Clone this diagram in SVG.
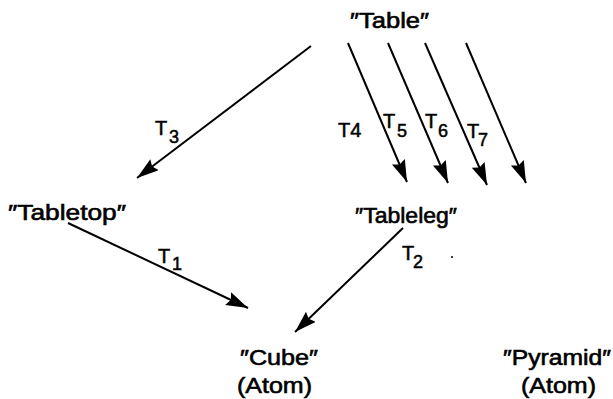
<svg xmlns="http://www.w3.org/2000/svg" width="613" height="399" viewBox="0 0 613 399">
<style>
.n{font-family:"Liberation Sans","DejaVu Sans",sans-serif;font-size:22px;fill:#000;stroke:#000;stroke-width:0.6}
.l{font-family:"Liberation Sans","DejaVu Sans",sans-serif;font-size:20px;fill:#000;stroke:#000;stroke-width:0.5}
.s{font-size:18px}
.c{stroke:#000;stroke-width:2;fill:none;marker-end:url(#ah)}
</style>
<defs>
<marker id="ah" markerUnits="userSpaceOnUse" markerWidth="24" markerHeight="16" refX="22" refY="7" orient="auto">
<path d="M0,0 L22,7 L0,14 L3,7 z" fill="#000"/>
</marker>
</defs>
<rect width="613" height="399" fill="#fff"/>
<g id="connectors">
<line class="c" x1="311" y1="46" x2="137" y2="178"/>
<line class="c" x1="348" y1="43" x2="407" y2="182"/>
<line class="c" x1="388" y1="43" x2="448" y2="183"/>
<line class="c" x1="425" y1="43" x2="487" y2="185"/>
<line class="c" x1="466" y1="43" x2="526" y2="183"/>
<line class="c" x1="68" y1="223" x2="248" y2="308"/>
<line class="c" x1="403" y1="228" x2="295" y2="332"/>
</g>
<g id="labels">
<text class="l" x="155" y="135">T</text><text class="l s" x="169" y="143">3</text>
<text class="l" x="338" y="137">T4</text>
<text class="l" x="383" y="128">T</text><text class="l s" x="397" y="137">5</text>
<text class="l" x="425" y="128">T</text><text class="l s" x="438" y="137">6</text>
<text class="l" x="467" y="138">T</text><text class="l s" x="478" y="146">7</text>
<text class="l" x="158" y="263">T</text><text class="l s" x="172" y="270">1</text>
<text class="l" x="402" y="260">T</text><text class="l s" x="413" y="268">2</text>
<circle cx="452" cy="257" r="1" fill="#000"/>
</g>
<g id="table"><text class="n" x="350" y="28" textLength="79" lengthAdjust="spacingAndGlyphs">″Table″</text></g>
<g id="tabletop"><text class="n" x="8" y="220" textLength="118" lengthAdjust="spacingAndGlyphs">″Tabletop″</text></g>
<g id="tableleg"><text class="n" x="355" y="223" textLength="102" lengthAdjust="spacingAndGlyphs">″Tableleg″</text></g>
<g id="cube"><text class="n" x="240" y="365" textLength="78" lengthAdjust="spacingAndGlyphs">″Cube″</text><text class="n" x="237" y="393" textLength="75" lengthAdjust="spacingAndGlyphs">(Atom)</text></g>
<g id="pyramid"><text class="n" x="503" y="365" textLength="108" lengthAdjust="spacingAndGlyphs">″Pyramid″</text><text class="n" x="521" y="393" textLength="75" lengthAdjust="spacingAndGlyphs">(Atom)</text></g>
</svg>
